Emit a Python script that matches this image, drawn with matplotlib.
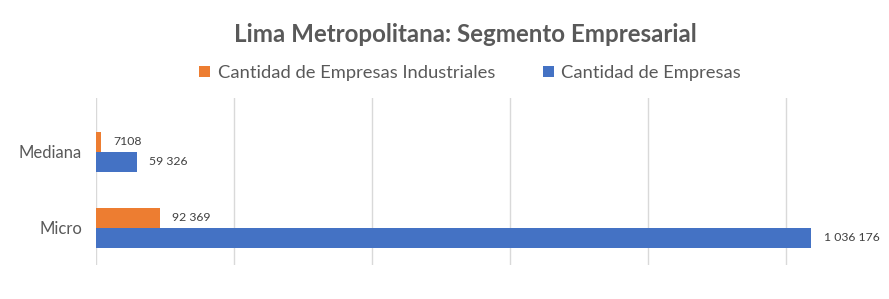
import matplotlib.pyplot as plt
import numpy as np

# data
categories = ['Micro', 'Mediana']
industriales = [92369, 7108]
empresas = [1036176, 59326]
series_names = ['Cantidad de Empresas Industriales', 'Cantidad de Empresas']

plt.rcParams['font.family'] = ['Lato', 'DejaVu Sans']

def fmt(v):
    if v >= 10000:
        return f'{v:,}'.replace(',', ' ')
    return str(v)

fig = plt.figure(figsize=(8.89, 2.99), dpi=100)
ax = fig.add_axes([96 / 889, 1 - 265 / 299, 1 - 96 / 889, 167 / 299])

y = np.arange(len(categories))
h = 0.263
b1 = ax.barh(y + h / 2, industriales, height=h, color='#ED7D31', label=series_names[0])
b2 = ax.barh(y - h / 2, empresas, height=h, color='#4472C4', label=series_names[1])

ax.bar_label(b1, labels=[fmt(v) for v in industriales], padding=9, fontsize=8.8, color='#404040')
ax.bar_label(b2, labels=[fmt(v) for v in empresas], padding=9, fontsize=8.8, color='#404040')

ax.set_xlim(0, 1149000)
ax.set_ylim(-0.49, 1.71)
ax.set_xticks(np.arange(0, 1000001, 200000))
ax.set_xticklabels([])
ax.tick_params(axis='x', length=0)
ax.tick_params(axis='y', length=0, labelsize=12, labelcolor='#595959', pad=10)
ax.set_yticks(y)
ax.set_yticklabels(categories)
ax.grid(axis='x', color='#D9D9D9', linewidth=1)
ax.set_axisbelow(True)
for s in ax.spines.values():
    s.set_visible(False)

fig.text(465 / 889, 1 - 35 / 299, 'Lima Metropolitana: Segmento Empresarial',
         ha='center', va='center', fontsize=17.4, fontweight='bold', color='#595959')

handles = [b1, b2]
fig.legend(handles, series_names, loc='center', bbox_to_anchor=(470 / 889, 1 - 73 / 299),
           ncol=2, frameon=False, fontsize=13.2, labelcolor='#595959',
           handlelength=0.6, handleheight=0.6, handletextpad=0.4, columnspacing=2.6)

plt.savefig('out.png', dpi=100)
